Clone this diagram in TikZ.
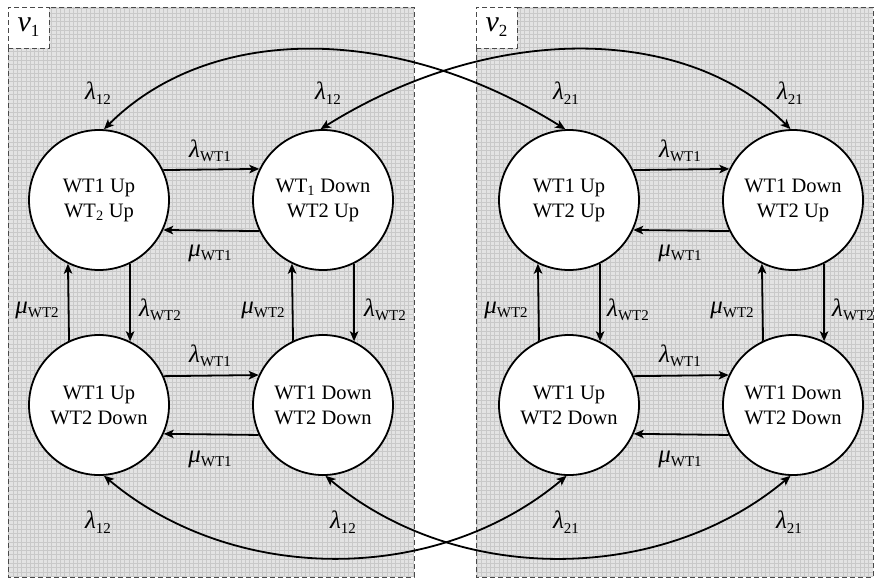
\documentclass[tikz,border=0pt]{standalone}
\usepackage{fontspec}
\setmainfont{Liberation Serif}
\usetikzlibrary{arrows.meta}
\definecolor{panelbg}{HTML}{E3E3E3}
\definecolor{gridln}{HTML}{C9C9C9}
\definecolor{dashln}{HTML}{4A4A4A}
% rate label: italic Greek letter with an upright, lowered subscript
\newcommand\rate[2]{{\itshape #1}\raisebox{-4.5pt}{\fontsize{15}{15}\selectfont #2}}
\newcommand\vlab[1]{{\itshape v}\raisebox{-5pt}{\fontsize{17}{17}\selectfont #1}}

\begin{document}
\begin{tikzpicture}[x=1pt,y=1pt,
  state/.style={circle,draw,fill=white,line width=1.8pt,minimum size=140pt,
    inner sep=0pt,align=center,font=\fontsize{20.5}{25}\selectfont},
  tip/.tip={Stealth[length=10pt,width=8.5pt,inset=2.5pt]},
  trans/.style={line width=1.8pt,-tip},
  bitrans/.style={line width=1.8pt,tip-tip},
  lab/.style={font=\fontsize{25}{25}\selectfont,inner sep=0pt},
  panel/.style={draw=dashln,dash pattern=on 5pt off 3pt,line width=1pt},
  vbox/.style={panel,fill=white,minimum size=41pt,inner sep=0pt,
    font=\fontsize{30}{30}\selectfont}]
\useasboundingbox (0,0) rectangle (876,-579);

% two shaded, gridded panels
\foreach \xa/\xb in {8/414, 476/873}{
  \fill[panelbg] (\xa,-7) rectangle (\xb,-577);
  \begin{scope}
    \clip (\xa,-7) rectangle (\xb,-577);
    \draw[gridln,line width=0.5pt,step=4.3pt] (\xa,-7) grid (\xb,-577);
  \end{scope}
  \draw[panel] (\xa,-7) rectangle (\xb,-577);
}
\node[vbox] (v1) at (28.5,-27.5) {\vlab{1}};
\node[vbox] (v2) at (496.5,-27.5) {\vlab{2}};

% states of v1
\node[state] (a1) at (99,-200) {WT1 Up\\WT\textsubscript{2} Up};
\node[state] (a2) at (323,-200) {WT\textsubscript{1} Down\\WT2 Up};
\node[state] (a3) at (99,-405) {WT1 Up\\WT2 Down};
\node[state] (a4) at (323,-405) {WT1 Down\\WT2 Down};
% states of v2
\node[state] (b1) at (569,-200) {WT1 Up\\WT2 Up};
\node[state] (b2) at (793,-200) {WT1 Down\\WT2 Up};
\node[state] (b3) at (569,-405) {WT1 Up\\WT2 Down};
\node[state] (b4) at (793,-405) {WT1 Down\\WT2 Down};

% transitions inside each panel
\foreach \p in {a,b}{
  \draw[trans] (\p1.25.4) -- (\p2.154.6);
  \draw[trans] (\p2.-154.6) -- (\p1.-25.4);
  \draw[trans] (\p3.24.5) -- (\p4.155.5);
  \draw[trans] (\p4.-155.5) -- (\p3.-24.5);
  \draw[trans] (\p3.115.4) -- (\p1.244.6);
  \draw[trans] (\p1.-64.6) -- (\p3.64.6);
  \draw[trans] (\p4.115.4) -- (\p2.244.6);
  \draw[trans] (\p2.-64.6) -- (\p4.64.6);
}

% transitions between the panels
\draw[bitrans] (a1.86.7) .. controls +(45:150) and +(148:200) .. (b1.93.3);
\draw[bitrans] (a2.92.5) .. controls +(32:200) and +(135:150) .. (b2.92.5);
\draw[bitrans] (a3.-86.7) .. controls +(-40:170) and +(-140:170) .. (b3.-92);
\draw[bitrans] (a4.-88) .. controls +(-40:170) and +(-140:170) .. (b4.-92.5);

% rate labels
\foreach \dx in {0,470}{
  \node[lab] (lw1\dx) at (210+\dx,-151) {\rate{λ}{WT1}};
  \node[lab] (mw1\dx) at (210+\dx,-253) {\rate{μ}{WT1}};
  \node[lab] (lw3\dx) at (210+\dx,-356) {\rate{λ}{WT1}};
  \node[lab] (mw3\dx) at (210+\dx,-459) {\rate{μ}{WT1}};
}
\node[lab] at (37,-310) {\rate{μ}{WT2}};
\node[lab] at (160,-310) {\rate{λ}{WT2}};
\node[lab] at (263,-310) {\rate{μ}{WT2}};
\node[lab] at (385,-310) {\rate{λ}{WT2}};
\node[lab] at (506,-310) {\rate{μ}{WT2}};
\node[lab] at (628,-310) {\rate{λ}{WT2}};
\node[lab] at (732,-310) {\rate{μ}{WT2}};
\node[lab] at (853,-310) {\rate{λ}{WT2}};

\node[lab] at (98,-93) {\rate{λ}{12}};
\node[lab] at (328,-93) {\rate{λ}{12}};
\node[lab] at (566,-93) {\rate{λ}{21}};
\node[lab] at (790,-93) {\rate{λ}{21}};
\node[lab] at (98,-522) {\rate{λ}{12}};
\node[lab] at (343,-522) {\rate{λ}{12}};
\node[lab] at (566,-522) {\rate{λ}{21}};
\node[lab] at (789,-522) {\rate{λ}{21}};
\end{tikzpicture}
\end{document}
